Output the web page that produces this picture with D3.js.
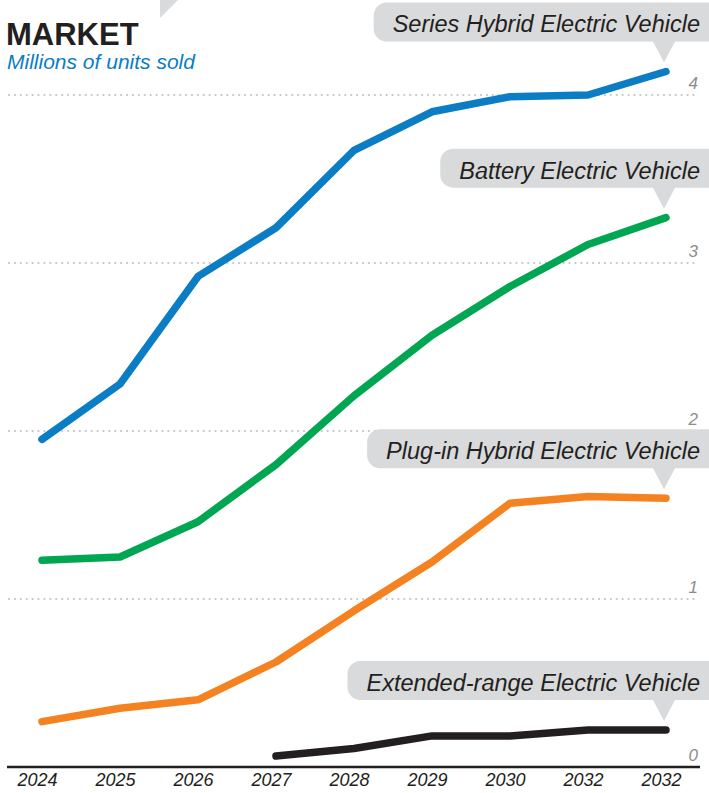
<!DOCTYPE html>
<html>
<head>
<meta charset="utf-8">
<script src="https://cdn.jsdelivr.net/npm/d3@7"></script>
<style>
  body { margin: 0; background: #fff; }
  svg { display: block; font-family: "Liberation Sans", Arial, sans-serif; }
</style>
</head>
<body>
<script>
// x categories (the source repeats 2032)
var years = ['2024', '2025', '2026', '2027', '2028', '2029', '2030', '2032', '2032'];
var yTicks = [0, 1, 2, 3, 4];

// millions of units sold, null = no data
var seriesHybrid = [1.95, 2.28, 2.92, 3.21, 3.67, 3.90, 3.99, 4.00, 4.14];
var batteryEV = [1.23, 1.25, 1.46, 1.80, 2.21, 2.57, 2.86, 3.11, 3.27];
var plugInHybrid = [0.27, 0.35, 0.40, 0.625, 0.93, 1.22, 1.57, 1.61, 1.60];
var extendedRange = [null, null, null, 0.065, 0.11, 0.185, 0.185, 0.22, 0.22];

var seriesNames = ['Series Hybrid Electric Vehicle', 'Battery Electric Vehicle',
    'Plug-in Hybrid Electric Vehicle', 'Extended-range Electric Vehicle'];
var seriesColors = ['#0a7dc4', '#00a651', '#f58220', '#231f20'];
var allSeries = [seriesHybrid, batteryEV, plugInHybrid, extendedRange];

var width = 709, height = 793;

var svg = d3.select('body').append('svg')
    .attr('width', width)
    .attr('height', height);

// scales
var x = d3.scaleLinear().domain([0, years.length - 1]).range([42, 666]);
var y = d3.scaleLinear().domain([0, 4]).range([767, 95]);

// small grey corner decoration
svg.append('path')
    .attr('d', 'M160,0 L178,0 L160,18 Z')
    .attr('fill', '#d9dadb');

// title
svg.append('text')
    .attr('x', 6).attr('y', 45)
    .attr('font-size', 31).attr('font-weight', 'bold')
    .attr('fill', '#231f20')
    .text('MARKET');
svg.append('text')
    .attr('x', 7).attr('y', 69)
    .attr('font-size', 21).attr('font-style', 'italic')
    .attr('fill', '#0a7dc4')
    .text('Millions of units sold');

// grid lines (dotted) with labels on the right
var grid = svg.append('g').attr('class', 'grid');
grid.selectAll('line')
    .data(yTicks.filter(d => d > 0))
    .enter().append('line')
    .attr('x1', 9).attr('x2', 698)
    .attr('y1', d => y(d)).attr('y2', d => y(d))
    .attr('stroke', '#c4c6c8')
    .attr('stroke-width', 2.2)
    .attr('stroke-linecap', 'round')
    .attr('stroke-dasharray', '0.1,5.8');
grid.selectAll('text')
    .data(yTicks)
    .enter().append('text')
    .attr('x', 698)
    .attr('y', d => y(d) - 6)
    .attr('text-anchor', 'end')
    .attr('font-size', 17).attr('font-style', 'italic')
    .attr('fill', '#8c8c8c')
    .text(d => d);

// x axis
var xAxis = d3.axisBottom(x)
    .tickValues(d3.range(years.length))
    .tickFormat(i => years[i])
    .tickSize(0)
    .tickPadding(6);

var gx = svg.append('g')
    .attr('transform', 'translate(-5,' + y(0) + ')')
    .call(xAxis);
gx.select('.domain').remove();
gx.append('line')
    .attr('x1', 12).attr('x2', 705)
    .attr('stroke', '#231f20').attr('stroke-width', 2.5);
gx.selectAll('.tick text')
    .attr('font-size', 18).attr('font-style', 'italic')
    .attr('font-family', '"Liberation Sans", Arial, sans-serif')
    .attr('fill', '#231f20');

// lines
var line = d3.line()
    .defined(d => d != null)
    .x((d, i) => x(i))
    .y(d => y(d));

svg.selectAll('.series')
    .data(allSeries)
    .enter().append('path')
    .attr('class', 'series')
    .attr('d', d => line(d))
    .attr('fill', 'none')
    .attr('stroke', (d, i) => seriesColors[i])
    .attr('stroke-width', 7.5)
    .attr('stroke-linecap', 'round')
    .attr('stroke-linejoin', 'round');

// callout labels pointing at the end of each line
allSeries.forEach(function (values, i) {
    var last = values.length - 1;
    var px = x(last) - 2, py = y(values[last]);
    var bottom = py - 30, top = bottom - 39;
    var g = svg.append('g');
    var bubble = g.append('path').attr('fill', '#d9dadb');
    var label = g.append('text')
        .attr('x', 700).attr('y', bottom - 9)
        .attr('text-anchor', 'end')
        .attr('font-size', 23.5).attr('font-style', 'italic')
        .attr('fill', '#231f20')
        .text(seriesNames[i]);
    var left = label.node().getBBox().x - 19, right = 730, r = 13;
    var p = d3.path();
    p.moveTo(left + r, top);
    p.lineTo(right, top);
    p.lineTo(right, bottom);
    p.lineTo(px + 11, bottom);
    p.lineTo(px, py - 9);
    p.lineTo(px - 11, bottom);
    p.lineTo(left + r, bottom);
    p.arcTo(left, bottom, left, bottom - r, r);
    p.lineTo(left, top + r);
    p.arcTo(left, top, left + r, top, r);
    p.closePath();
    bubble.attr('d', p.toString());
});
</script>
</body>
</html>
